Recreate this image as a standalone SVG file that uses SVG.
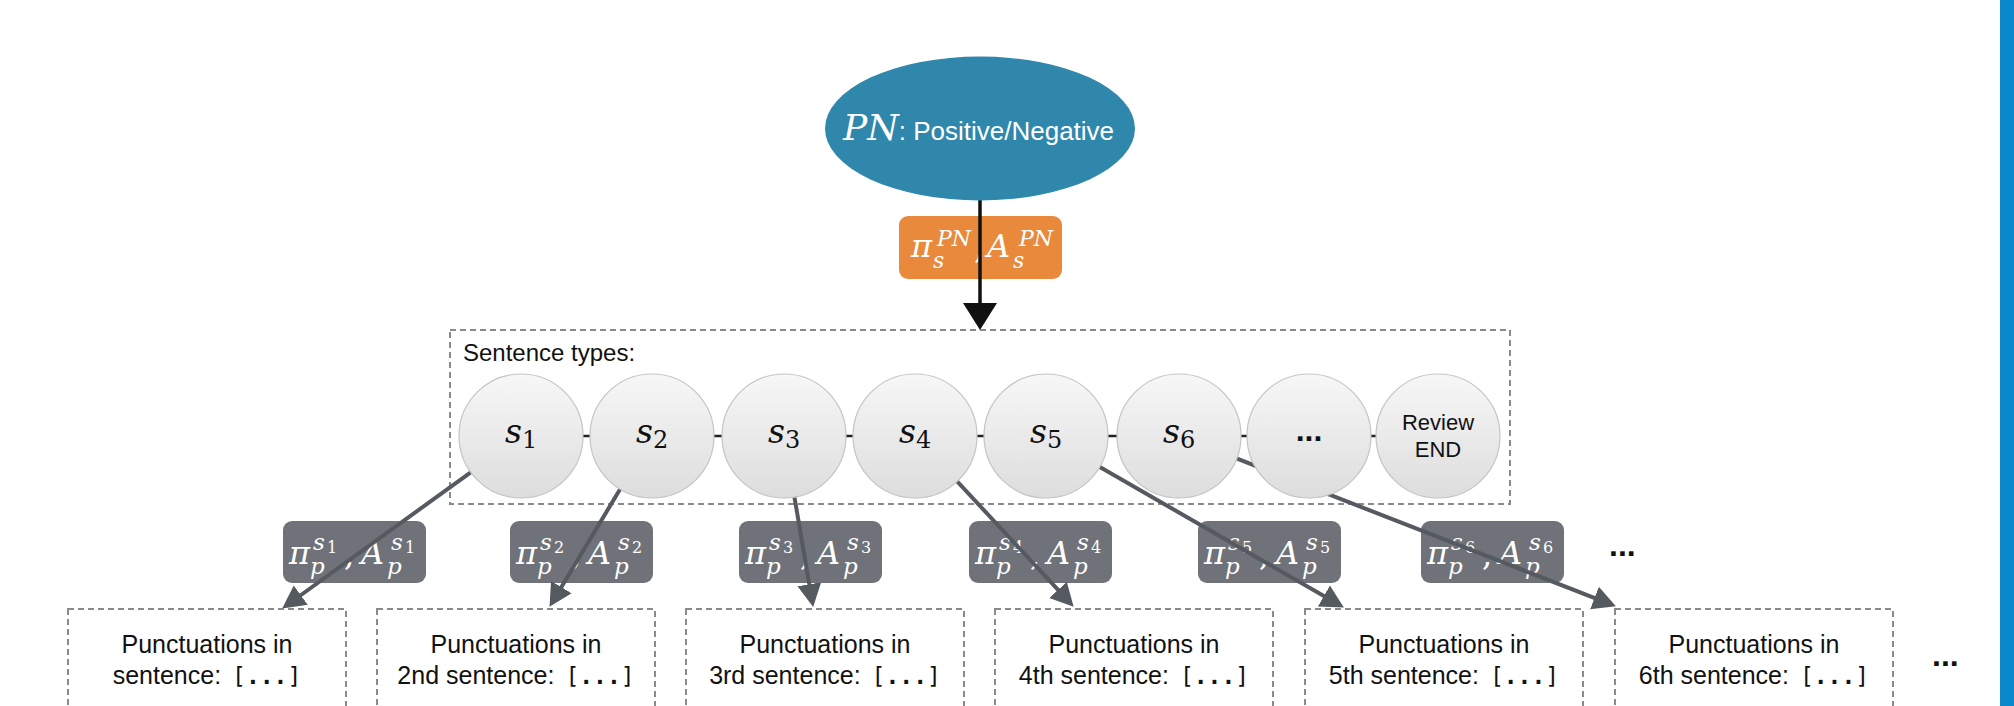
<svg xmlns="http://www.w3.org/2000/svg" width="2014" height="706" viewBox="0 0 2014 706">
<defs>
<style>
.dash{fill:none;stroke:#8a8a8a;stroke-width:2;stroke-dasharray:6 4}
.circ{fill:url(#cg);stroke:#c4c4c4;stroke-width:1.2}
.math{font-family:"DejaVu Serif","Liberation Serif",serif;font-style:italic}
.mathup{font-family:"DejaVu Serif","Liberation Serif",serif;font-style:normal}
.sans{font-family:"Liberation Sans",Arial,sans-serif}
.mono{font-family:"DejaVu Sans Mono","Liberation Mono",monospace;font-size:23px}
.b{font-weight:bold}
.glab{fill:#6f7278}
.wt{fill:#ffffff}
.garrow{stroke:#555960;stroke-width:4;fill:none;marker-end:url(#gm)}
.link{stroke:#222;stroke-width:2.5}
.btxt{fill:#111;font-size:25px;text-anchor:middle}
</style>
<linearGradient id="cg" x1="0" y1="0" x2="0" y2="1">
<stop offset="0" stop-color="#f7f7f7"/>
<stop offset="1" stop-color="#dddddd"/>
</linearGradient>
<marker id="gm" markerUnits="userSpaceOnUse" markerWidth="24" markerHeight="26" viewBox="0 -13 24 26" refX="10" refY="0" orient="auto">
<path d="M0,-12 L23,0 L0,12 z" fill="#555960"/>
</marker>
<marker id="bm" markerUnits="userSpaceOnUse" markerWidth="28" markerHeight="36" viewBox="0 -18 28 36" refX="12" refY="0" orient="auto">
<path d="M0,-17 L27,0 L0,17 z" fill="#111"/>
</marker>
</defs>
<rect x="0" y="0" width="2014" height="706" fill="#ffffff"/>
<rect x="2000" y="0" width="14" height="706" fill="#0b87cb"/>

<g id="sentence-types">
<rect class="dash" x="450" y="330" width="1060" height="174"/>
<text class="sans" x="463" y="361" font-size="24" fill="#111">Sentence types:</text>
</g>

<g id="label-pn" transform="translate(899,0)">
<rect x="0" y="216" width="163" height="63" rx="9" fill="#e8893b"/>
<text class="math wt" font-size="32"><tspan x="12" y="257">π</tspan><tspan x="38" y="246" font-size="22">PN</tspan><tspan x="34" y="268" font-size="22">s</tspan><tspan class="mathup" x="75" y="259">,</tspan><tspan x="88" y="257">A</tspan><tspan x="120" y="246" font-size="22">PN</tspan><tspan x="114" y="268" font-size="22">s</tspan></text>
</g>

<g id="label-s1" transform="translate(283,0)">
<rect class="glab" x="0" y="521" width="143" height="62" rx="9"/>
<text class="math wt" font-size="32"><tspan x="6" y="564">π</tspan><tspan x="30" y="550" font-size="23">s</tspan><tspan class="mathup" x="44" y="553" font-size="16">1</tspan><tspan x="27" y="574" font-size="23">p</tspan><tspan class="mathup" x="61" y="566">,</tspan><tspan x="78" y="564">A</tspan><tspan x="108" y="550" font-size="23">s</tspan><tspan class="mathup" x="122" y="553" font-size="16">1</tspan><tspan x="104" y="574" font-size="23">p</tspan></text>
</g>
<g id="label-s2" transform="translate(510,0)">
<rect class="glab" x="0" y="521" width="143" height="62" rx="9"/>
<text class="math wt" font-size="32"><tspan x="6" y="564">π</tspan><tspan x="30" y="550" font-size="23">s</tspan><tspan class="mathup" x="44" y="553" font-size="16">2</tspan><tspan x="27" y="574" font-size="23">p</tspan><tspan class="mathup" x="61" y="566">,</tspan><tspan x="78" y="564">A</tspan><tspan x="108" y="550" font-size="23">s</tspan><tspan class="mathup" x="122" y="553" font-size="16">2</tspan><tspan x="104" y="574" font-size="23">p</tspan></text>
</g>
<g id="label-s3" transform="translate(739,0)">
<rect class="glab" x="0" y="521" width="143" height="62" rx="9"/>
<text class="math wt" font-size="32"><tspan x="6" y="564">π</tspan><tspan x="30" y="550" font-size="23">s</tspan><tspan class="mathup" x="44" y="553" font-size="16">3</tspan><tspan x="27" y="574" font-size="23">p</tspan><tspan class="mathup" x="61" y="566">,</tspan><tspan x="78" y="564">A</tspan><tspan x="108" y="550" font-size="23">s</tspan><tspan class="mathup" x="122" y="553" font-size="16">3</tspan><tspan x="104" y="574" font-size="23">p</tspan></text>
</g>
<g id="label-s4" transform="translate(969,0)">
<rect class="glab" x="0" y="521" width="143" height="62" rx="9"/>
<text class="math wt" font-size="32"><tspan x="6" y="564">π</tspan><tspan x="30" y="550" font-size="23">s</tspan><tspan class="mathup" x="44" y="553" font-size="16">4</tspan><tspan x="27" y="574" font-size="23">p</tspan><tspan class="mathup" x="61" y="566">,</tspan><tspan x="78" y="564">A</tspan><tspan x="108" y="550" font-size="23">s</tspan><tspan class="mathup" x="122" y="553" font-size="16">4</tspan><tspan x="104" y="574" font-size="23">p</tspan></text>
</g>
<g id="label-s5" transform="translate(1198,0)">
<rect class="glab" x="0" y="521" width="143" height="62" rx="9"/>
<text class="math wt" font-size="32"><tspan x="6" y="564">π</tspan><tspan x="30" y="550" font-size="23">s</tspan><tspan class="mathup" x="44" y="553" font-size="16">5</tspan><tspan x="27" y="574" font-size="23">p</tspan><tspan class="mathup" x="61" y="566">,</tspan><tspan x="78" y="564">A</tspan><tspan x="108" y="550" font-size="23">s</tspan><tspan class="mathup" x="122" y="553" font-size="16">5</tspan><tspan x="104" y="574" font-size="23">p</tspan></text>
</g>
<g id="label-s6" transform="translate(1421,0)">
<rect class="glab" x="0" y="521" width="143" height="62" rx="9"/>
<text class="math wt" font-size="32"><tspan x="6" y="564">π</tspan><tspan x="30" y="550" font-size="23">s</tspan><tspan class="mathup" x="44" y="553" font-size="16">6</tspan><tspan x="27" y="574" font-size="23">p</tspan><tspan class="mathup" x="61" y="566">,</tspan><tspan x="78" y="564">A</tspan><tspan x="108" y="550" font-size="23">s</tspan><tspan class="mathup" x="122" y="553" font-size="16">6</tspan><tspan x="104" y="574" font-size="23">p</tspan></text>
</g>
<text id="label-more" class="sans" x="1609" y="556" font-size="32" font-weight="bold" fill="#111">...</text>

<g id="connectors">
<line x1="980" y1="200" x2="980" y2="315" stroke="#111" stroke-width="3.5" marker-end="url(#bm)"/>
<line class="garrow" x1="521" y1="436" x2="292.7" y2="601"/>
<line class="garrow" x1="652" y1="436" x2="556.2" y2="595.7"/>
<line class="garrow" x1="784" y1="436" x2="811" y2="594.2"/>
<line class="garrow" x1="915" y1="436" x2="1064.8" y2="597.2"/>
<line class="garrow" x1="1046" y1="436" x2="1332.6" y2="601"/>
<line class="garrow" x1="1179" y1="436" x2="1603.8" y2="601.6"/>
<line class="link" x1="521" y1="436" x2="652" y2="436"/>
<line class="link" x1="652" y1="436" x2="784" y2="436"/>
<line class="link" x1="784" y1="436" x2="915" y2="436"/>
<line class="link" x1="915" y1="436" x2="1046" y2="436"/>
<line class="link" x1="1046" y1="436" x2="1179" y2="436"/>
<line class="link" x1="1179" y1="436" x2="1309" y2="436"/>
<line class="link" x1="1309" y1="436" x2="1438" y2="436"/>
</g>

<g id="pn">
<ellipse cx="980" cy="128.5" rx="155" ry="72" fill="#2f87ac"/>
<text x="843" y="140" fill="#fff"><tspan class="math" font-size="36">PN</tspan><tspan class="sans" font-size="26">: Positive/Negative</tspan></text>
</g>

<g id="s1"><circle class="circ" cx="521" cy="436" r="62"/><text class="math" x="505" y="443" font-size="33" fill="#111">s<tspan class="mathup" font-size="24" dy="5">1</tspan></text></g>
<g id="s2"><circle class="circ" cx="652" cy="436" r="62"/><text class="math" x="636" y="443" font-size="33" fill="#111">s<tspan class="mathup" font-size="24" dy="5">2</tspan></text></g>
<g id="s3"><circle class="circ" cx="784" cy="436" r="62"/><text class="math" x="768" y="443" font-size="33" fill="#111">s<tspan class="mathup" font-size="24" dy="5">3</tspan></text></g>
<g id="s4"><circle class="circ" cx="915" cy="436" r="62"/><text class="math" x="899" y="443" font-size="33" fill="#111">s<tspan class="mathup" font-size="24" dy="5">4</tspan></text></g>
<g id="s5"><circle class="circ" cx="1046" cy="436" r="62"/><text class="math" x="1030" y="443" font-size="33" fill="#111">s<tspan class="mathup" font-size="24" dy="5">5</tspan></text></g>
<g id="s6"><circle class="circ" cx="1179" cy="436" r="62"/><text class="math" x="1163" y="443" font-size="33" fill="#111">s<tspan class="mathup" font-size="24" dy="5">6</tspan></text></g>
<g id="s-more"><circle class="circ" cx="1309" cy="436" r="62"/><text class="sans" x="1309" y="441" font-size="32" font-weight="bold" text-anchor="middle" fill="#111">...</text></g>
<g id="review-end"><circle class="circ" cx="1438" cy="436" r="62"/><text class="sans" x="1438" y="430" font-size="22" text-anchor="middle" fill="#111">Review<tspan x="1438" y="457">END</tspan></text></g>

<g id="p1"><rect class="dash" x="68" y="609" width="278" height="120"/><text class="sans btxt" x="207" y="653">Punctuations in<tspan x="207" y="684">sentence: <tspan class="mono" dx="4">[</tspan><tspan class="mono b">...</tspan><tspan class="mono">]</tspan></tspan></text></g>
<g id="p2"><rect class="dash" x="377" y="609" width="278" height="120"/><text class="sans btxt" x="516" y="653">Punctuations in<tspan x="516" y="684">2nd sentence: <tspan class="mono" dx="4">[</tspan><tspan class="mono b">...</tspan><tspan class="mono">]</tspan></tspan></text></g>
<g id="p3"><rect class="dash" x="686" y="609" width="278" height="120"/><text class="sans btxt" x="825" y="653">Punctuations in<tspan x="825" y="684">3rd sentence: <tspan class="mono" dx="4">[</tspan><tspan class="mono b">...</tspan><tspan class="mono">]</tspan></tspan></text></g>
<g id="p4"><rect class="dash" x="995" y="609" width="278" height="120"/><text class="sans btxt" x="1134" y="653">Punctuations in<tspan x="1134" y="684">4th sentence: <tspan class="mono" dx="4">[</tspan><tspan class="mono b">...</tspan><tspan class="mono">]</tspan></tspan></text></g>
<g id="p5"><rect class="dash" x="1305" y="609" width="278" height="120"/><text class="sans btxt" x="1444" y="653">Punctuations in<tspan x="1444" y="684">5th sentence: <tspan class="mono" dx="4">[</tspan><tspan class="mono b">...</tspan><tspan class="mono">]</tspan></tspan></text></g>
<g id="p6"><rect class="dash" x="1615" y="609" width="278" height="120"/><text class="sans btxt" x="1754" y="653">Punctuations in<tspan x="1754" y="684">6th sentence: <tspan class="mono" dx="4">[</tspan><tspan class="mono b">...</tspan><tspan class="mono">]</tspan></tspan></text></g>
<text id="p-more" class="sans" x="1932" y="666" font-size="32" font-weight="bold" fill="#111">...</text>
</svg>
